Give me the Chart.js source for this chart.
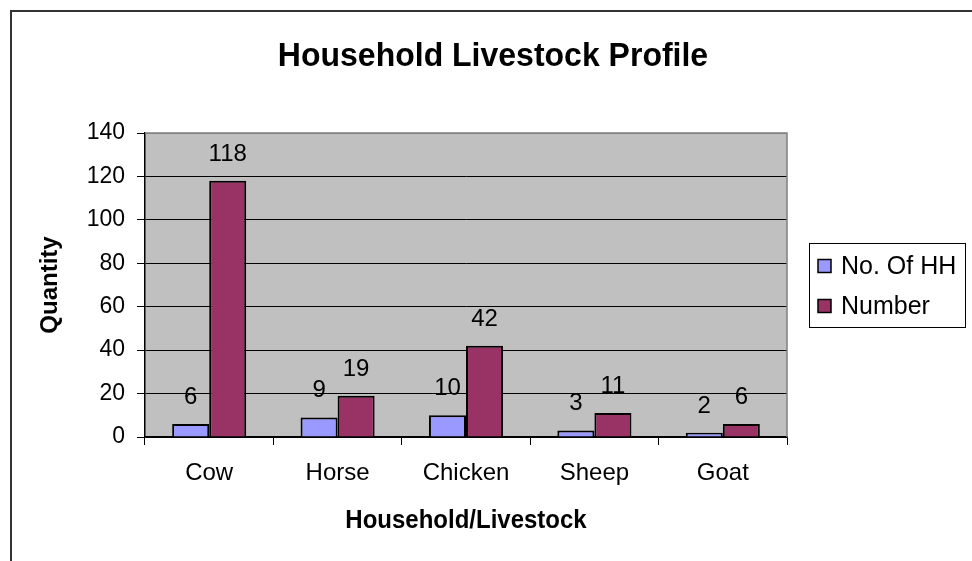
<!DOCTYPE html>
<html>
<head>
<meta charset="utf-8">
<title>Household Livestock Profile</title>
<script src="https://cdn.jsdelivr.net/npm/chart.js@4.4.1/dist/chart.umd.min.js"></script>
<style>
  html, body { margin: 0; padding: 0; background: #ffffff; }
  #wrap { position: relative; width: 972px; height: 561px; }
</style>
</head>
<body>
<div id="wrap"><canvas id="chart" width="972" height="561"></canvas></div>
<script>
// Livestock survey results
const categories = ['Cow', 'Horse', 'Chicken', 'Sheep', 'Goat'];
const householdCounts = [6, 9, 10, 3, 2];
const animalCounts = [118, 19, 42, 11, 6];
const seriesNames = ['No. Of HH', 'Number'];
const yTickValues = [0, 20, 40, 60, 80, 100, 120, 140];

const chartTitle = 'Household Livestock Profile';
const xTitle = 'Household/Livestock';
const yTitle = 'Quantity';

const FONT = '"Liberation Sans", Arial, Helvetica, sans-serif';
const COLORS = ['#9999FF', '#993366'];

// Plot frame in canvas pixels
const PLOT = { left: 145, top: 133, right: 787, bottom: 437 };

// Draw text slightly stretched vertically, like the condensed chart lettering
function tallText(ctx, text, x, y, sy) {
  ctx.save();
  ctx.translate(x, y);
  ctx.scale(1, sy);
  ctx.fillText(text, 0, 0);
  ctx.restore();
}

const decorations = {
  id: 'decorations',
  beforeDraw(chart) {
    const { ctx, chartArea: a } = chart;
    ctx.save();
    ctx.fillStyle = '#ffffff';
    ctx.fillRect(0, 0, chart.width, chart.height);
    ctx.fillStyle = '#C0C0C0';
    ctx.fillRect(a.left, a.top, a.right - a.left, a.bottom - a.top);
    ctx.restore();
  },
  afterDraw(chart) {
    const { ctx, chartArea: a } = chart;
    ctx.save();
    // outer frame (top and left edges)
    ctx.strokeStyle = '#333333';
    ctx.lineWidth = 2;
    ctx.beginPath();
    ctx.moveTo(11, chart.height);
    ctx.lineTo(11, 11);
    ctx.lineTo(chart.width, 11);
    ctx.stroke();

    // top and right plot edges
    ctx.strokeStyle = '#808080';
    ctx.lineWidth = 1.5;
    ctx.beginPath();
    ctx.moveTo(a.left, a.top);
    ctx.lineTo(a.right, a.top);
    ctx.lineTo(a.right, a.bottom);
    ctx.stroke();

    // chart title
    ctx.fillStyle = '#000000';
    ctx.textAlign = 'center';
    ctx.textBaseline = 'middle';
    ctx.font = 'bold 32px ' + FONT;
    tallText(ctx, chartTitle, 493, 57, 1.06);

    // axis titles
    ctx.font = 'bold 24px ' + FONT;
    tallText(ctx, xTitle, (a.left + a.right) / 2, 521, 1.05);
    ctx.save();
    ctx.translate(50, (a.top + a.bottom) / 2);
    ctx.rotate(-Math.PI / 2);
    ctx.fillText(yTitle, 0, 0);
    ctx.restore();

    // value labels above bars
    ctx.font = '24px ' + FONT;
    ctx.textBaseline = 'alphabetic';
    chart.data.datasets.forEach((ds, di) => {
      chart.getDatasetMeta(di).data.forEach((bar, i) => {
        ctx.fillText(String(ds.data[i]), bar.x, bar.y - 20);
      });
    });

    // legend
    const lx = 809, ly = 243, lw = 156, lh = 84;
    ctx.fillStyle = '#ffffff';
    ctx.fillRect(lx, ly, lw, lh);
    ctx.strokeStyle = '#000000';
    ctx.lineWidth = 1;
    ctx.strokeRect(lx + 0.5, ly + 0.5, lw, lh);
    ctx.font = '25px ' + FONT;
    ctx.textAlign = 'left';
    ctx.textBaseline = 'middle';
    seriesNames.forEach((name, i) => {
      const cy = ly + 23 + i * 40;
      ctx.fillStyle = COLORS[i];
      ctx.fillRect(818, cy - 6.5, 13, 13);
      ctx.strokeStyle = '#000000';
      ctx.lineWidth = 1.5;
      ctx.strokeRect(818, cy - 6.5, 13, 13);
      ctx.fillStyle = '#000000';
      ctx.fillText(name, 841, cy + 1);
    });
    ctx.restore();
  }
};

new Chart(document.getElementById('chart'), {
  type: 'bar',
  data: {
    labels: categories,
    datasets: seriesNames.map((name, i) => ({
      label: name,
      data: i === 0 ? householdCounts : animalCounts,
      backgroundColor: COLORS[i],
      borderColor: '#000000',
      borderWidth: 2,
      borderSkipped: 'bottom',
      categoryPercentage: 0.577,
      barPercentage: 1.0
    }))
  },
  options: {
    responsive: false,
    animation: false,
    devicePixelRatio: 1,
    layout: { padding: { left: 0, top: PLOT.top, right: 972 - PLOT.right, bottom: 0 } },
    plugins: {
      legend: { display: false },
      title: { display: false },
      tooltip: { enabled: false }
    },
    scales: {
      x: {
        offset: true,
        grid: {
          display: true,
          drawOnChartArea: false,
          offset: true,
          color: '#000000',
          tickLength: 8
        },
        border: { display: true, color: '#000000', width: 1.5 },
        ticks: {
          color: '#000000',
          font: { family: FONT, size: 24 },
          padding: 14
        },
        afterFit(scale) { scale.height = 561 - PLOT.bottom; }
      },
      y: {
        min: 0,
        max: 140,
        afterBuildTicks(scale) { scale.ticks = yTickValues.map(v => ({ value: v })); },
        grid: {
          color: (c) => (c.tick && c.tick.value === 140 ? '#808080' : '#000000'),
          tickColor: '#000000',
          tickLength: 8,
          lineWidth: 1
        },
        border: { display: true, color: '#000000', width: 1.5 },
        ticks: {
          color: '#000000',
          font: { family: FONT, size: 23 },
          padding: 12
        },
        afterFit(scale) { scale.width = PLOT.left; }
      }
    }
  },
  plugins: [decorations]
});
</script>
</body>
</html>
